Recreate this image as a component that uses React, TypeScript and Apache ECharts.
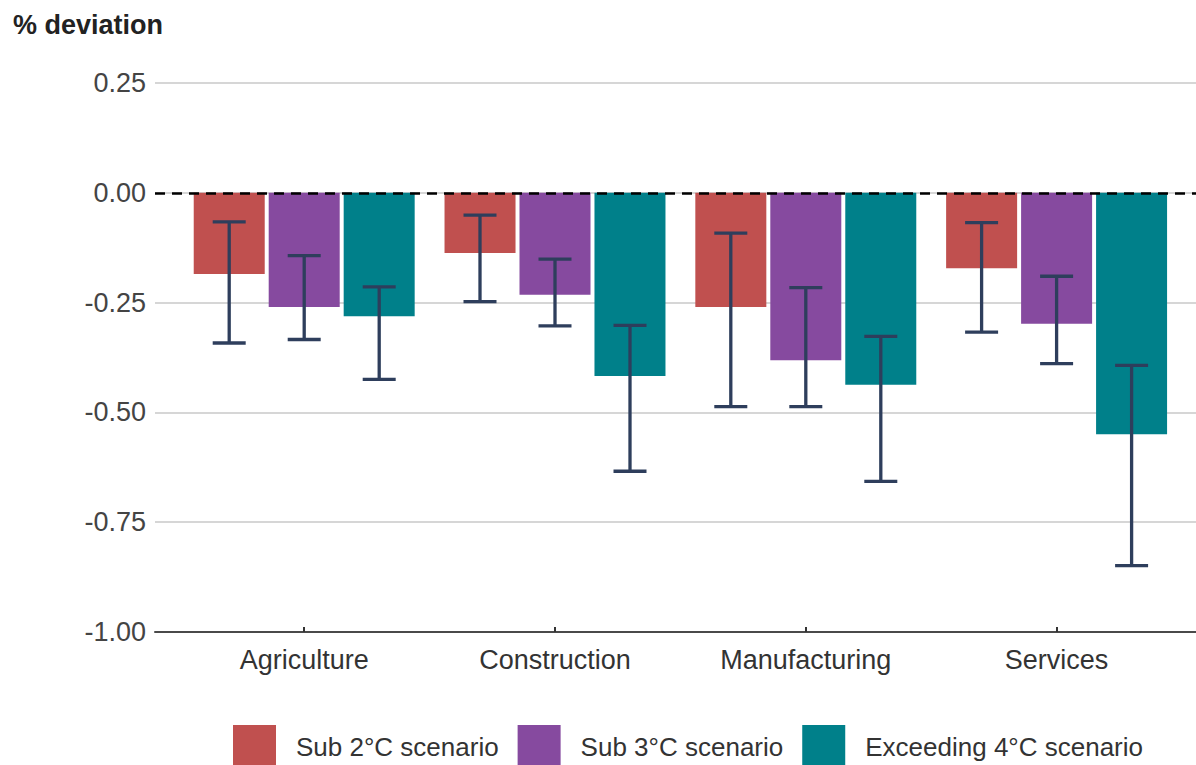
import React, { useEffect, useRef } from "react";
import * as echarts from "echarts";

const categories = ["Agriculture", "Construction", "Manufacturing", "Services"];
const scenarios = ["Sub 2°C scenario", "Sub 3°C scenario", "Exceeding 4°C scenario"];
const colors = ["#C0504F", "#864A9F", "#00808A"];

const sub2 = [-0.185, -0.137, -0.26, -0.172];
const sub3 = [-0.26, -0.232, -0.381, -0.298];
const exc4 = [-0.281, -0.417, -0.437, -0.55];

const sub2Low = [-0.342, -0.248, -0.487, -0.317];
const sub2High = [-0.066, -0.051, -0.092, -0.068];
const sub3Low = [-0.334, -0.303, -0.487, -0.389];
const sub3High = [-0.143, -0.151, -0.216, -0.19];
const exc4Low = [-0.425, -0.634, -0.657, -0.849];
const exc4High = [-0.214, -0.302, -0.327, -0.393];

const yMin = -1;
const yMax = 0.25;
const yStep = 0.25;

const FONT = "Liberation Sans, Arial, Helvetica, sans-serif";
const BAR_W = 71;
const BAR_GAP = 4;
const CAP_W = 33;
const ERR_COLOR = "#2E3E5C";

export default function App() {
  const ref = useRef<HTMLDivElement>(null);

  useEffect(() => {
    if (!ref.current) return;
    const chart = echarts.init(ref.current, null, { renderer: "svg" });
    const values = [sub2, sub3, exc4];
    const lows = [sub2Low, sub3Low, exc4Low];
    const highs = [sub2High, sub3High, exc4High];

    const barSeries = scenarios.map((name, k) => ({
      name,
      type: "bar",
      xAxisIndex: 1,
      yAxisIndex: 1,
      barWidth: BAR_W,
      barGap: ((BAR_GAP / BAR_W) * 100).toFixed(1) + "%",
      itemStyle: { color: colors[k] },
      data: values[k],
      z: 2,
    }));

    const errSeries = scenarios.map((name, k) => ({
      name: "err-" + k,
      type: "custom",
      xAxisIndex: 1,
      yAxisIndex: 1,
      z: 5,
      encode: { x: 0, y: [1, 2] },
      data: categories.map((_, i) => [i, lows[k][i], highs[k][i]]),
      renderItem: (params: any, api: any) => {
        const idx = api.value(0);
        const lo = api.coord([idx, api.value(1)]);
        const hi = api.coord([idx, api.value(2)]);
        const cx = lo[0] + (k - 1) * (BAR_W + BAR_GAP);
        const style = { stroke: ERR_COLOR, lineWidth: 3.3, fill: "none" };
        return {
          type: "group",
          children: [
            { type: "line", shape: { x1: cx, y1: hi[1], x2: cx, y2: lo[1] }, style },
            { type: "line", shape: { x1: cx - CAP_W / 2, y1: hi[1], x2: cx + CAP_W / 2, y2: hi[1] }, style },
            { type: "line", shape: { x1: cx - CAP_W / 2, y1: lo[1], x2: cx + CAP_W / 2, y2: lo[1] }, style },
          ],
        };
      },
    }));

    chart.setOption({
      animation: false,
      backgroundColor: "#ffffff",
      textStyle: { fontFamily: FONT },
      title: {
        text: "% deviation",
        left: 8,
        top: 6,
        textStyle: { fontFamily: FONT, fontSize: 27, fontWeight: "bold", color: "#222222" },
      },
      legend: {
        data: scenarios,
        left: 233,
        top: 725,
        padding: 0,
        icon: "rect",
        itemWidth: 43,
        itemHeight: 43,
        itemGap: 19,
        textStyle: { fontFamily: FONT, fontSize: 26, color: "#333333", padding: [0, 0, 0, 15] },
      },
      grid: [
        { left: 155, right: 0, top: 83, height: 549 },
        { left: 178.8, right: 14, top: 83, height: 549 },
      ],
      xAxis: [
        {
          type: "value",
          gridIndex: 0,
          min: 0,
          max: 1,
          axisLine: { show: true, onZero: false, lineStyle: { color: "#4a4a4a", width: 2 } },
          axisTick: { show: false },
          axisLabel: { show: false },
          splitLine: { show: false },
        },
        {
          type: "category",
          gridIndex: 1,
          data: categories,
          axisLine: { show: false, onZero: false },
          axisTick: { show: true, alignWithLabel: true, inside: true, length: 5, lineStyle: { color: "#333333", width: 2 } },
          axisLabel: { fontFamily: FONT, fontSize: 27, color: "#333333", margin: 14 },
          splitLine: { show: false },
        },
      ],
      yAxis: [
        {
          type: "value",
          gridIndex: 0,
          min: yMin,
          max: yMax,
          interval: yStep,
          axisLine: { show: false },
          axisTick: { show: false },
          axisLabel: {
            fontFamily: FONT,
            fontSize: 27,
            color: "#444444",
            margin: 9,
            formatter: (v: number) => v.toFixed(2),
          },
          splitLine: { show: true, lineStyle: { color: "#c8c8c8", width: 1.5 } },
        },
        {
          type: "value",
          gridIndex: 1,
          min: yMin,
          max: yMax,
          interval: yStep,
          show: false,
          splitLine: { show: false },
        },
      ],
      series: [
        ...barSeries,
        ...errSeries,
        {
          name: "zero",
          type: "line",
          xAxisIndex: 0,
          yAxisIndex: 0,
          data: [[0, 0]],
          symbolSize: 0,
          showSymbol: false,
          lineStyle: { width: 0 },
          z: 10,
          markLine: {
            silent: true,
            symbol: "none",
            label: { show: false },
            lineStyle: { color: "#000000", type: [10, 7], width: 2.5 },
            data: [{ yAxis: 0 }],
            z: 10,
          },
        },
      ],
    });
    return () => chart.dispose();
  }, []);

  return (
    <div
      ref={ref}
      style={{ position: "fixed", left: 0, top: 0, width: 1196, height: 765, background: "#fff" }}
    />
  );
}
